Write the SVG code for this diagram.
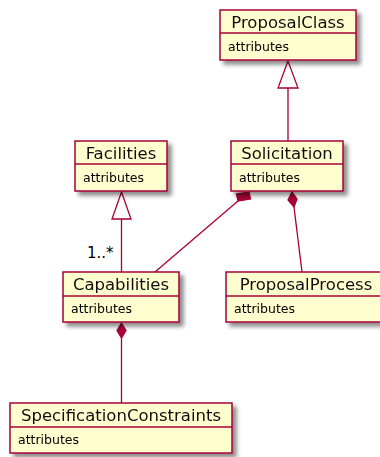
<svg xmlns="http://www.w3.org/2000/svg" width="380" height="457" viewBox="0 0 380 457">
  <defs>
    <filter id="shadow" x="-10%" y="-10%" width="130%" height="140%">
      <feGaussianBlur in="SourceAlpha" stdDeviation="2"/>
      <feOffset dx="4" dy="4" result="b"/>
      <feComponentTransfer><feFuncA type="linear" slope="0.45"/></feComponentTransfer>
      <feMerge><feMergeNode/><feMergeNode in="SourceGraphic"/></feMerge>
    </filter>
  </defs>
  <style>
    .box { fill: #FEFECE; stroke: #A80036; stroke-width: 1.5; }
    .div { stroke: #A80036; stroke-width: 1.5; }
    .title { font-family: "DejaVu Sans", sans-serif; font-size: 16.5px; fill: #111; text-anchor: middle; }
    .attr { font-family: "DejaVu Sans", sans-serif; font-size: 12.5px; fill: #000; }
    .edge { stroke: #A80036; stroke-width: 1.3; fill: none; }
    .hollow { fill: #FFFFFF; stroke: #A80036; stroke-width: 1.3; }
    .solid { fill: #A80036; stroke: #A80036; stroke-width: 1.3; }
    .mult { font-family: "DejaVu Sans", sans-serif; font-size: 15px; fill: #000; }
  </style>
  <rect width="380" height="457" fill="#FFFFFF"/>

  <g id="connectors">
    <!-- Solicitation extends ProposalClass -->
    <line class="edge" x1="288" y1="88" x2="288" y2="141"/>
    <polygon class="hollow" points="288,61 278,88 298,88"/>
    <!-- Capabilities extends Facilities -->
    <line class="edge" x1="121.5" y1="219" x2="121.5" y2="272"/>
    <polygon class="hollow" points="121.5,192 112,219 131,219"/>
    <text class="mult" x="87" y="258">1..*</text>
    <!-- Solicitation composes Capabilities -->
    <line class="edge" x1="238" y1="201" x2="155" y2="272"/>
    <polygon class="solid" points="249,192 250.5,199 238,201 236.5,194"/>
    <!-- Solicitation composes ProposalProcess -->
    <line class="edge" x1="294" y1="207" x2="302" y2="272"/>
    <polygon class="solid" points="292,192 297,199 294,207 288,200"/>
    <!-- Capabilities composes SpecificationConstraints -->
    <line class="edge" x1="121.5" y1="338" x2="121.5" y2="403"/>
    <polygon class="solid" points="121.5,323 126,330.5 121.5,338 117,330.5"/>
  </g>

  <g id="ProposalClass" filter="url(#shadow)">
    <rect class="box" x="220" y="10" width="136" height="50"/>
    <line class="div" x1="220" y1="33" x2="356" y2="33"/>
    <text class="title" x="288" y="28">ProposalClass</text>
    <text class="attr" x="228" y="51">attributes</text>
  </g>

  <g id="Facilities" filter="url(#shadow)">
    <rect class="box" x="75" y="141" width="92" height="50"/>
    <line class="div" x1="75" y1="164" x2="167" y2="164"/>
    <text class="title" x="121" y="159">Facilities</text>
    <text class="attr" x="83" y="182">attributes</text>
  </g>

  <g id="Solicitation" filter="url(#shadow)">
    <rect class="box" x="231" y="141" width="112" height="50"/>
    <line class="div" x1="231" y1="164" x2="343" y2="164"/>
    <text class="title" x="287" y="159">Solicitation</text>
    <text class="attr" x="239" y="182">attributes</text>
  </g>

  <g id="Capabilities" filter="url(#shadow)">
    <rect class="box" x="63" y="272" width="116" height="50"/>
    <line class="div" x1="63" y1="296" x2="179" y2="296"/>
    <text class="title" x="121" y="290">Capabilities</text>
    <text class="attr" x="71" y="313">attributes</text>
  </g>

  <g id="ProposalProcess" filter="url(#shadow)">
    <rect class="box" x="226" y="272" width="160" height="50"/>
    <line class="div" x1="226" y1="296" x2="386" y2="296"/>
    <text class="title" x="306" y="290">ProposalProcess</text>
    <text class="attr" x="234" y="313">attributes</text>
  </g>

  <g id="SpecificationConstraints" filter="url(#shadow)">
    <rect class="box" x="10" y="403" width="222" height="50"/>
    <line class="div" x1="10" y1="427" x2="232" y2="427"/>
    <text class="title" x="121" y="421">SpecificationConstraints</text>
    <text class="attr" x="18" y="444">attributes</text>
  </g>
</svg>
